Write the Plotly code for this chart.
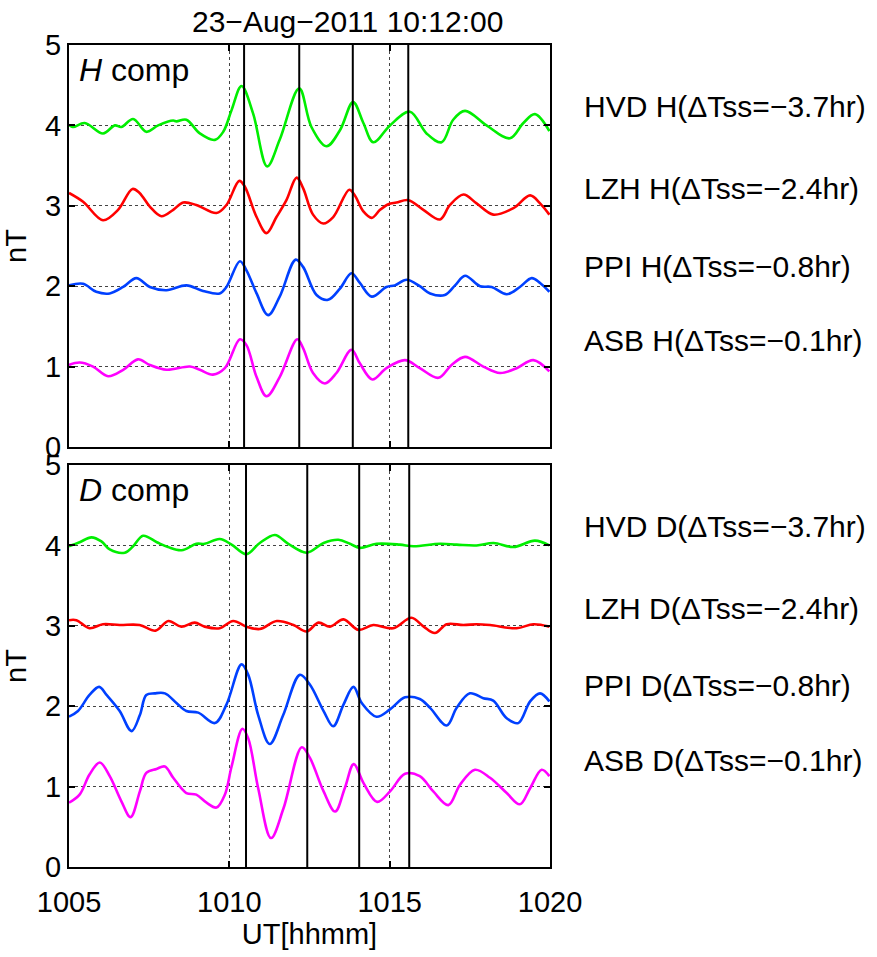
import plotly.graph_objects as go

# ---------------- data ----------------
# H component (values include the 4/3/2/1 nT display offsets)
t_h_hvd = [1005.0, 1005.12, 1005.49, 1006.06, 1006.43, 1006.63, 1007.0, 1007.41, 1007.78, 1008.25, 1008.35, 1008.66,
           1009.08, 1009.55, 1009.81, 1010.07, 1010.38, 1010.74, 1011.18, 1011.57, 1012.18, 1012.56, 1013.03, 1013.45,
           1013.86, 1014.18, 1014.49, 1015.01, 1015.63, 1016.15, 1016.62, 1016.98, 1017.35, 1018.02, 1018.75, 1019.17,
           1019.53, 1019.98]
v_h_hvd = [4.01, 3.98, 4.03, 3.90, 4.0, 3.98, 4.08, 3.92, 4.0, 4.06, 4.05, 4.07,
           3.90, 3.82, 3.92, 4.19, 4.49, 4.15, 3.49, 3.82, 4.46, 3.98, 3.74, 3.94,
           4.29, 4.03, 3.79, 4.0, 4.17, 3.90, 3.79, 4.07, 4.18, 4.0, 3.84, 4.03,
           4.14, 3.93]

t_h_lzh = [1005.0, 1005.44, 1006.06, 1006.53, 1006.98, 1007.2, 1007.52, 1007.88, 1008.25, 1008.56, 1008.97, 1009.6,
           1009.91, 1010.31, 1010.48, 1010.85, 1011.16, 1011.47, 1011.78, 1012.1, 1012.3, 1012.61, 1012.93, 1013.24,
           1013.74, 1013.91, 1014.18, 1014.44, 1014.7, 1014.96, 1015.21, 1015.58, 1016.05, 1016.57, 1016.88, 1017.3,
           1017.71, 1018.23, 1018.86, 1019.38, 1019.69, 1019.98]
v_h_lzh = [3.16, 3.05, 2.82, 2.95, 3.21, 3.16, 2.99, 2.87, 2.95, 3.04, 3.01, 2.91,
           3.01, 3.31, 3.24, 2.86, 2.66, 2.86, 3.07, 3.35, 3.22, 2.89, 2.78, 2.86,
           3.20, 3.13, 2.93, 2.85, 2.95, 3.02, 3.04, 3.07, 2.95, 2.83, 3.01, 3.14,
           3.03, 2.89, 2.97, 3.13, 3.03, 2.89]

t_h_ppi = [1005.0, 1005.44, 1005.85, 1006.27, 1006.69, 1007.1, 1007.52, 1008.04, 1008.66, 1009.18, 1009.7, 1009.91,
           1010.33, 1010.53, 1010.85, 1011.21, 1011.57, 1012.07, 1012.3, 1012.72, 1013.08, 1013.45, 1013.81, 1014.07,
           1014.44, 1014.9, 1015.16, 1015.53, 1015.94, 1016.26, 1016.72, 1017.04, 1017.35, 1017.82, 1018.18, 1018.65,
           1019.06, 1019.43, 1019.69, 1019.98]
v_h_ppi = [2.01, 2.03, 1.93, 1.91, 1.99, 2.10, 1.99, 1.95, 2.01, 1.94, 1.91, 1.99,
           2.31, 2.20, 1.91, 1.64, 1.87, 2.33, 2.24, 1.89, 1.83, 1.97, 2.16, 2.04,
           1.87, 1.99, 2.01, 2.08, 2.0, 1.91, 1.89, 2.01, 2.13, 2.0, 1.99, 1.90,
           1.99, 2.10, 2.04, 1.93]

t_h_asb = [1005.0, 1005.33, 1005.75, 1006.22, 1006.69, 1007.15, 1007.52, 1008.04, 1008.77, 1009.08, 1009.49, 1009.86,
           1010.33, 1010.53, 1010.85, 1011.16, 1011.57, 1012.12, 1012.3, 1012.61, 1012.98, 1013.34, 1013.81, 1014.07,
           1014.46, 1014.9, 1015.48, 1015.94, 1016.52, 1016.93, 1017.35, 1017.92, 1018.44, 1018.96, 1019.48, 1019.98]
v_h_asb = [1.02, 1.05, 1.0, 0.88, 0.96, 1.09, 1.02, 0.96, 1.0, 0.96, 0.90, 0.98,
           1.34, 1.27, 0.87, 0.63, 0.87, 1.34, 1.23, 0.92, 0.79, 0.92, 1.21, 1.04,
           0.84, 0.98, 1.08, 0.98, 0.86, 1.02, 1.12, 1.0, 0.92, 0.98, 1.08, 0.94]

# D component
t_d_hvd = [1005.0, 1005.33, 1005.7, 1006.01, 1006.27, 1006.74, 1007.0, 1007.31, 1007.74, 1008.09, 1008.51, 1008.97,
           1009.23, 1009.7, 1010.07, 1010.53, 1010.95, 1011.42, 1011.84, 1012.41, 1012.94, 1013.4, 1013.76, 1014.07,
           1014.59, 1015.32, 1015.74, 1016.57, 1017.09, 1017.71, 1018.24, 1018.86, 1019.53, 1019.98]
v_d_hvd = [3.99, 4.04, 4.10, 4.05, 3.95, 3.91, 3.99, 4.12, 4.04, 3.98, 3.94, 4.02,
           4.02, 4.08, 4.01, 3.89, 4.03, 4.13, 4.02, 3.91, 4.03, 4.07, 4.02, 3.97,
           4.02, 4.01, 3.99, 4.02, 4.01, 4.0, 4.03, 3.98, 4.06, 4.0]

t_d_lzh = [1005.0, 1005.23, 1005.64, 1006.06, 1006.58, 1007.2, 1007.7, 1008.1, 1008.5, 1008.92, 1009.23, 1009.7,
           1010.12, 1010.53, 1010.95, 1011.48, 1012.0, 1012.41, 1012.78, 1013.14, 1013.56, 1014.02, 1014.49, 1015.11,
           1015.68, 1016.06, 1016.41, 1016.78, 1017.3, 1017.71, 1018.13, 1018.96, 1019.48, 1019.98]
v_d_lzh = [3.07, 3.07, 2.97, 3.02, 3.01, 3.01, 2.94, 3.06, 2.99, 3.04, 2.99, 2.97,
           3.06, 2.99, 2.96, 3.06, 3.01, 2.93, 3.04, 2.99, 3.08, 2.95, 3.01, 2.97,
           3.10, 2.99, 2.91, 3.02, 3.01, 3.02, 3.01, 2.97, 3.02, 2.99]

t_d_ppi = [1005.0, 1005.28, 1005.64, 1005.94, 1006.17, 1006.58, 1006.95, 1007.21, 1007.41, 1007.67, 1007.99, 1008.35,
           1008.66, 1009.03, 1009.55, 1009.91, 1010.38, 1010.59, 1010.9, 1011.26, 1011.68, 1012.2, 1012.51, 1012.94,
           1013.24, 1013.56, 1013.87, 1014.13, 1014.59, 1015.01, 1015.48, 1015.94, 1016.26, 1016.78, 1017.09, 1017.5,
           1017.92, 1018.23, 1018.65, 1019.01, 1019.38, 1019.69, 1019.98]
v_d_ppi = [1.87, 1.94, 2.14, 2.24, 2.14, 1.94, 1.69, 1.89, 2.14, 2.16, 2.16, 2.04,
           1.94, 1.92, 1.79, 2.02, 2.52, 2.39, 1.89, 1.53, 1.89, 2.39, 2.27, 1.94,
           1.75, 2.02, 2.24, 2.04, 1.87, 1.96, 2.11, 2.09, 1.98, 1.76, 1.98, 2.16,
           2.10, 2.07, 1.85, 1.79, 2.06, 2.16, 2.06]

t_d_asb = [1005.0, 1005.33, 1005.64, 1005.96, 1006.27, 1006.63, 1006.92, 1007.21, 1007.41, 1007.73, 1007.99, 1008.25,
           1008.66, 1008.97, 1009.29, 1009.6, 1009.86, 1010.07, 1010.41, 1010.59, 1010.9, 1011.3, 1011.69, 1012.26,
           1012.51, 1012.94, 1013.3, 1013.6, 1013.88, 1014.19, 1014.61, 1015.01, 1015.48, 1015.94, 1016.36, 1016.83,
           1017.19, 1017.66, 1018.13, 1018.65, 1019.06, 1019.38, 1019.74, 1019.98]
v_d_asb = [0.80, 0.90, 1.15, 1.30, 1.13, 0.82, 0.62, 0.94, 1.17, 1.22, 1.25, 1.11,
           0.92, 0.90, 0.80, 0.74, 0.90, 1.25, 1.72, 1.60, 0.98, 0.36, 0.73, 1.49,
           1.36, 0.94, 0.69, 0.98, 1.28, 1.04, 0.81, 0.94, 1.16, 1.13, 0.94, 0.77,
           1.02, 1.21, 1.11, 0.92, 0.78, 0.98, 1.21, 1.13]

# vertical marker lines (UT hhmm)
marks_h = [1010.46, 1012.18, 1013.85, 1015.58]
marks_d = [1010.52, 1012.43, 1014.05, 1015.61]

labels_h = ["HVD H(ΔTss=−3.7hr)", "LZH H(ΔTss=−2.4hr)", "PPI H(ΔTss=−0.8hr)", "ASB H(ΔTss=−0.1hr)"]
labels_d = ["HVD D(ΔTss=−3.7hr)", "LZH D(ΔTss=−2.4hr)", "PPI D(ΔTss=−0.8hr)", "ASB D(ΔTss=−0.1hr)"]
label_y_h = [4.23, 3.22, 2.24, 1.33]
label_y_d = [4.23, 3.22, 2.26, 1.33]

x_ticks = [1005, 1010, 1015, 1020]
y_ticks = [0, 1, 2, 3, 4, 5]
title_text = "23−Aug−2011 10:12:00"

# ---------------- styling ----------------
colors = ["#00ee00", "#ff0000", "#0040ff", "#ff00ff"]
FONT = "Liberation Sans, Arial, Helvetica, sans-serif"
FS = 30

fig = go.Figure()

h_series = [(t_h_hvd, v_h_hvd), (t_h_lzh, v_h_lzh), (t_h_ppi, v_h_ppi), (t_h_asb, v_h_asb)]
d_series = [(t_d_hvd, v_d_hvd), (t_d_lzh, v_d_lzh), (t_d_ppi, v_d_ppi), (t_d_asb, v_d_asb)]

for (t, v), c in zip(h_series, colors):
    fig.add_trace(go.Scatter(x=t, y=v, mode="lines", xaxis="x", yaxis="y",
                             line=dict(color=c, width=2.6, shape="spline", smoothing=1.0),
                             showlegend=False, hoverinfo="skip"))
for (t, v), c in zip(d_series, colors):
    fig.add_trace(go.Scatter(x=t, y=v, mode="lines", xaxis="x2", yaxis="y2",
                             line=dict(color=c, width=2.6, shape="spline", smoothing=1.0),
                             showlegend=False, hoverinfo="skip"))

for m in marks_h:
    fig.add_trace(go.Scatter(x=[m, m], y=[y_ticks[0], y_ticks[-1]], mode="lines", xaxis="x", yaxis="y",
                             line=dict(color="black", width=2), showlegend=False, hoverinfo="skip"))
for m in marks_d:
    fig.add_trace(go.Scatter(x=[m, m], y=[y_ticks[0], y_ticks[-1]], mode="lines", xaxis="x2", yaxis="y2",
                             line=dict(color="black", width=2), showlegend=False, hoverinfo="skip"))

axis_common = dict(
    showline=True, linecolor="black", linewidth=2, mirror="ticks",
    ticks="inside", ticklen=6, tickwidth=1.5, tickcolor="black",
    showgrid=True, gridcolor="#444444", griddash="dot", gridwidth=1.2,
    zeroline=False, tickfont=dict(family=FONT, size=FS - 1, color="black"),
)

top_dom = [0.511, 1.0]
bot_dom = [0.0, 0.489]

fig.update_layout(
    width=877, height=957,
    margin=dict(l=69, r=327, t=45, b=90),
    paper_bgcolor="white", plot_bgcolor="white",
    font=dict(family=FONT, size=FS, color="black"),
    xaxis=dict(axis_common, domain=[0, 1], anchor="y", range=[1005, 1020], tickvals=x_ticks,
               showticklabels=False),
    yaxis=dict(axis_common, domain=top_dom, anchor="x", range=[0, 5], tickvals=y_ticks,
               title=dict(text="nT", font=dict(size=FS - 1), standoff=12)),
    xaxis2=dict(axis_common, domain=[0, 1], anchor="y2", range=[1005, 1020], tickvals=x_ticks,
                ticklabelstandoff=8,
                title=dict(text="UT[hhmm]", font=dict(size=FS - 1), standoff=6)),
    yaxis2=dict(axis_common, domain=bot_dom, anchor="x2", range=[0, 5], tickvals=y_ticks,
                title=dict(text="nT", font=dict(size=FS - 1), standoff=12)),
)

ann = []
for txt, yy in zip(labels_h, label_y_h):
    ann.append(dict(text=txt, x=1.0665, y=yy, xref="paper", yref="y", xanchor="left", yanchor="middle",
                    showarrow=False, font=dict(family=FONT, size=FS)))
for txt, yy in zip(labels_d, label_y_d):
    ann.append(dict(text=txt, x=1.0665, y=yy, xref="paper", yref="y2", xanchor="left", yanchor="middle",
                    showarrow=False, font=dict(family=FONT, size=FS)))
ann.append(dict(text="<i>H</i> comp", x=0.017, y=4.69, xref="paper", yref="y", xanchor="left", yanchor="middle",
                showarrow=False, font=dict(family=FONT, size=32)))
ann.append(dict(text="<i>D</i> comp", x=0.017, y=4.69, xref="paper", yref="y2", xanchor="left", yanchor="middle",
                showarrow=False, font=dict(family=FONT, size=32)))
ann.append(dict(text=title_text, x=0.58, y=1.028, xref="paper", yref="paper", xanchor="center", yanchor="middle",
                showarrow=False, font=dict(family=FONT, size=FS)))
fig.update_layout(annotations=ann)

fig.write_html("out.html")
